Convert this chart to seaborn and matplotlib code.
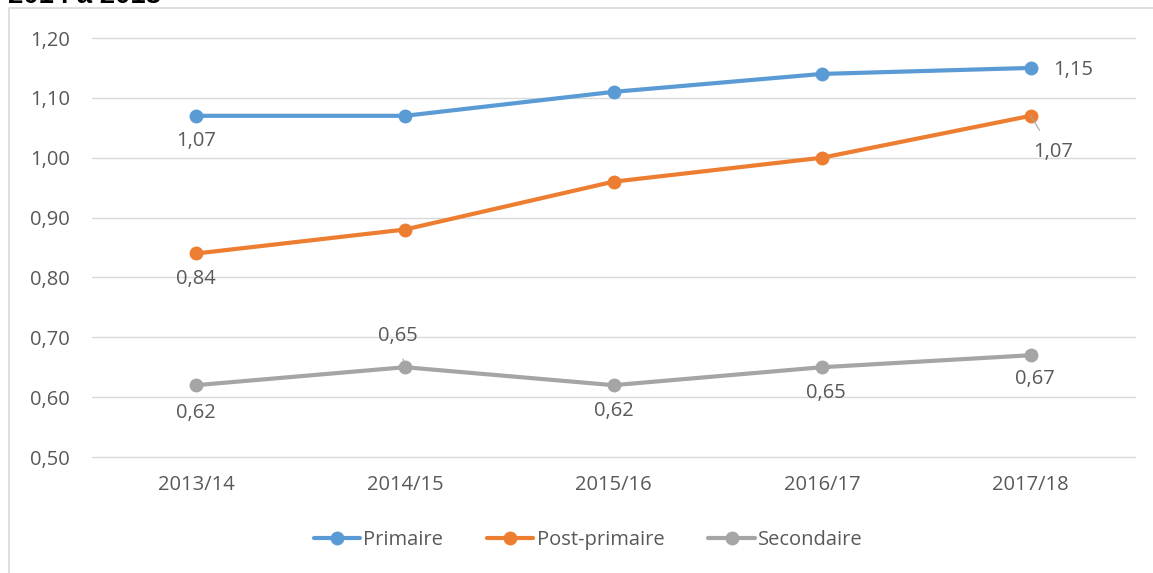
import pandas as pd
import matplotlib.pyplot as plt
import seaborn as sns
from matplotlib.patches import Rectangle
from matplotlib.lines import Line2D

years = ["2013/14", "2014/15", "2015/16", "2016/17", "2017/18"]
primaire = [1.07, 1.07, 1.11, 1.14, 1.15]
post_primaire = [0.84, 0.88, 0.96, 1.00, 1.07]
secondaire = [0.62, 0.65, 0.62, 0.65, 0.67]
series_names = ["Primaire", "Post-primaire", "Secondaire"]
colors = ["#5B9BD5", "#ED7D31", "#A5A5A5"]

df = pd.DataFrame({
    "annee": years * 3,
    "valeur": primaire + post_primaire + secondaire,
    "serie": [s for s in series_names for _ in years],
})

sns.set_style("white")
plt.rcParams["font.family"] = ["Open Sans", "DejaVu Sans"]
txt = "#595959"
fs = 14.5

fig = plt.figure(figsize=(11.53, 5.73), dpi=100)
ax = fig.add_axes([92 / 1153, 1 - 457 / 573, (1135 - 92) / 1153, (457 - 38) / 573])

sns.lineplot(data=df, x="annee", y="valeur", hue="serie", palette=colors,
             marker="o", markersize=10, markeredgewidth=0, linewidth=3,
             legend=False, ax=ax)

ax.set_xlim(-0.5, 4.5)
ax.set_ylim(0.5, 1.2)
ax.set_yticks([0.5, 0.6, 0.7, 0.8, 0.9, 1.0, 1.1, 1.2])
ax.set_yticklabels([f"{v:.2f}".replace(".", ",") for v in ax.get_yticks()])
ax.yaxis.grid(True, color="#D9D9D9", linewidth=1)
for gl in ax.get_ygridlines():
    gl.set_clip_on(False)
ax.set_axisbelow(True)
for s in ax.spines.values():
    s.set_visible(False)
ax.tick_params(axis="y", length=0, pad=16, labelsize=fs, labelcolor=txt)
ax.tick_params(axis="x", length=0, pad=13, labelsize=fs, labelcolor=txt)
ax.set_xlabel("")
ax.set_ylabel("")

# data labels (offsets in pixels -> points)
def lab(i, v, dx, dy, leader=False):
    ax.annotate(f"{v:.2f}".replace(".", ","), (i, v),
                xytext=(dx * 0.72, -dy * 0.72), textcoords="offset points",
                ha="center", va="center", fontsize=fs, color=txt,
                arrowprops=dict(arrowstyle="-", color="#A6A6A6", lw=0.8,
                                shrinkA=7, shrinkB=0) if leader else None)

lab(0, primaire[0], 0, 25)
lab(4, primaire[4], 42, 2)
lab(0, post_primaire[0], 0, 26)
lab(4, post_primaire[4], 22, 36, leader=True)
lab(0, secondaire[0], 0, 28)
lab(1, secondaire[1], -7, -31, leader=True)
lab(2, secondaire[2], 0, 26)
lab(3, secondaire[3], 4, 26)
lab(4, secondaire[4], 4, 24)

handles = [Line2D([0], [0], color=c, lw=3, marker="o", markersize=10,
                  markeredgewidth=0) for c in colors]
fig.legend(handles, series_names, loc="center", bbox_to_anchor=(0.51, 1 - 540 / 573),
           ncol=3, frameon=False, fontsize=fs, labelcolor=txt,
           handlelength=2.3, handletextpad=0.15, columnspacing=2.2)

# chart frame and clipped title
fig.patches.append(Rectangle((9 / 1153, -0.1), 1.2, 1 - 8 / 573 + 0.1,
                             transform=fig.transFigure, fill=False,
                             edgecolor="#D9D9D9", linewidth=1.2))
fig.text(8 / 1153, 1 - 3 / 573, "2014 à 2018", fontsize=19.8, fontweight="bold",
         family="Liberation Sans", va="baseline", ha="left", color="black")

fig.savefig("out.png", dpi=100)
